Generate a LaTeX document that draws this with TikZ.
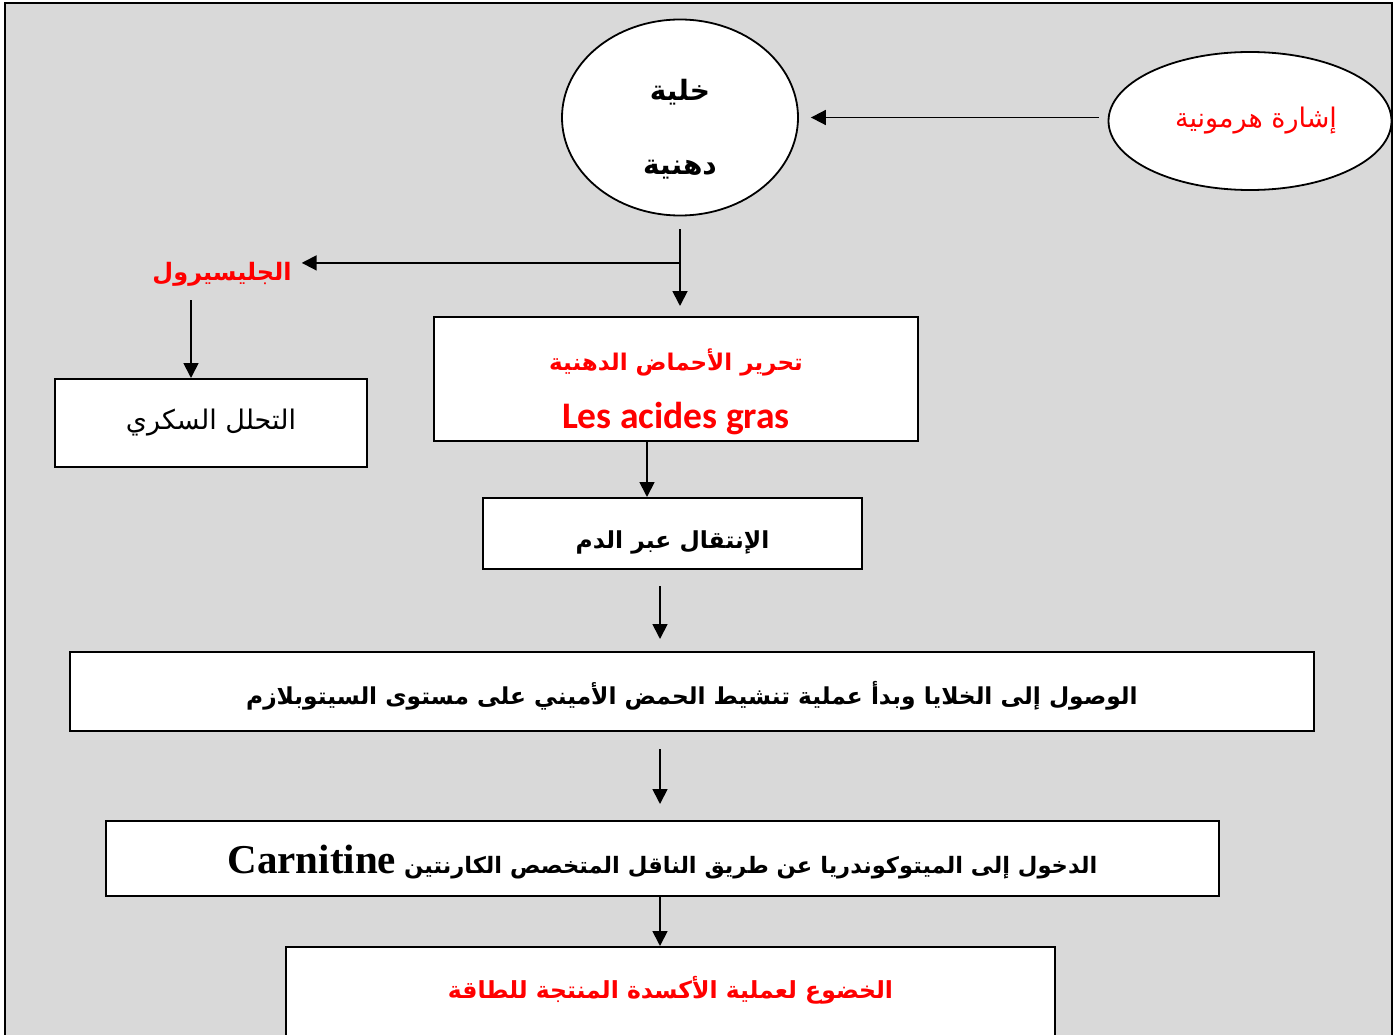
\documentclass[tikz,border=0pt]{standalone}
\usepackage{fontspec}
\usetikzlibrary{arrows.meta,shapes.geometric,calc}
\TeXXeTstate=1
\newfontfamily\arabicfont[Script=Arabic]{DejaVu Sans}
\newfontfamily\calibrifont{Carlito}
\newfontfamily\timesfont{Liberation Serif}
\newcommand\artxt[1]{{\arabicfont\beginR #1\endR}}
\newcommand\fsz[1]{\fontsize{#1}{1.2\dimexpr#1pt\relax}\selectfont}
\definecolor{panel}{RGB}{217,217,217}
\definecolor{hot}{RGB}{255,0,0}
\tikzset{
  arr/.style={-{Triangle[length=15pt,width=15pt]}, line width=1.8pt},
  boxn/.style={draw, fill=white, line width=2pt, inner sep=0pt},
  ovaln/.style={draw, fill=white, ellipse, line width=1.8pt, inner sep=0pt},
}
\begin{document}
\begin{tikzpicture}[x=1pt, y=-1pt]
  \useasboundingbox (0,0) rectangle (1397,1035);
  \clip (0,0) rectangle (1397,1035);
  % panel
  \draw[fill=panel, line width=2pt] (5,3) rectangle (1392,1060);

  % top row: fat cell and hormonal signal
  \node[ovaln, minimum width=236pt, minimum height=196pt, align=center,
        text height=125pt, text depth=10pt,
        font=\bfseries\fsz{28}] (cell) at (680,117.5)
        {\artxt{خلية}\\[41pt]\artxt{دهنية}};
  \node[ovaln, minimum width=283pt, minimum height=138pt, text=hot,
        font=\fsz{27}] (horm) at (1250,121) {\hspace*{12pt}\artxt{إشارة هرمونية}};

  % glycerol branch
  \node[anchor=base, inner sep=0pt, text depth=20pt, text=hot,
        font=\bfseries\fsz{24}] (gly) at (222,280) {\artxt{الجليسيرول}};
  \node[boxn, minimum width=312pt, minimum height=88pt, font=\fsz{27}]
        (b0) at (211,423) {\artxt{التحلل السكري}};

  % main chain
  \node[boxn, minimum width=484pt, minimum height=124pt, align=center,
        text=hot, text height=108pt, text depth=10pt] (b1) at (676,379)
        {{\bfseries\fsz{23}\artxt{تحرير الأحماض الدهنية}}\\[25pt]
         {\calibrifont\bfseries\fsz{37.5}Les acides gras}};
  \node[boxn, minimum width=379pt, minimum height=71pt,
        text height=30pt, text depth=0pt,
        font=\bfseries\fsz{23.4}] (b2) at (672.5,533.5)
        {\artxt{الإنتقال عبر الدم}};
  \node[boxn, minimum width=1244pt, minimum height=79pt,
        text height=26pt, text depth=0pt,
        font=\bfseries\fsz{23.3}] (b3) at (692,691.5)
        {\artxt{الوصول إلى الخلايا وبدأ عملية تنشيط الحمض الأميني على مستوى السيتوبلازم}};
  \node[boxn, minimum width=1113pt, minimum height=75pt,
        text height=29pt, text depth=0pt,
        font=\bfseries\fsz{22.6}] (b4) at (662.5,858.5)
        {\artxt{الدخول إلى الميتوكوندريا عن طريق الناقل المتخصص الكارنتين \beginL{\timesfont\fsz{41}Carnitine}\endL}};
  \node[boxn, minimum width=769pt, minimum height=110pt, text=hot,
        text height=30pt, text depth=38pt, font=\bfseries\fsz{23.5}]
        (b5) at (670.5,1002) {\artxt{الخضوع لعملية الأكسدة المنتجة للطاقة}};

  % connectors
  \coordinate (gx) at (191,0);
  \coordinate (ax1) at (647,0);
  \coordinate (ax2) at (660,0);
  \draw[arr, shorten <=9pt, shorten >=12pt] (cell.east -| horm.west) -- (cell.east);
  \draw[arr, shorten <=13pt, shorten >=10pt] (cell.south) -- (cell.south |- b1.north);
  \draw[arr, shorten >=10pt] (cell.south) ++(0,46.5) coordinate (br) -- (br -| gly.east);
  \draw[arr] (gly.south -| gx) -- (b0.north -| gx);
  \draw[arr] (b1.south -| ax1) -- (b2.north -| ax1);
  \draw[arr, shorten <=16pt, shorten >=12pt] (b2.south -| ax2) -- (b3.north -| ax2);
  \draw[arr, shorten <=17pt, shorten >=16pt] (b3.south -| ax2) -- (b4.north -| ax2);
  \draw[arr] (b4.south -| ax2) -- (b5.north -| ax2);
\end{tikzpicture}
\end{document}
